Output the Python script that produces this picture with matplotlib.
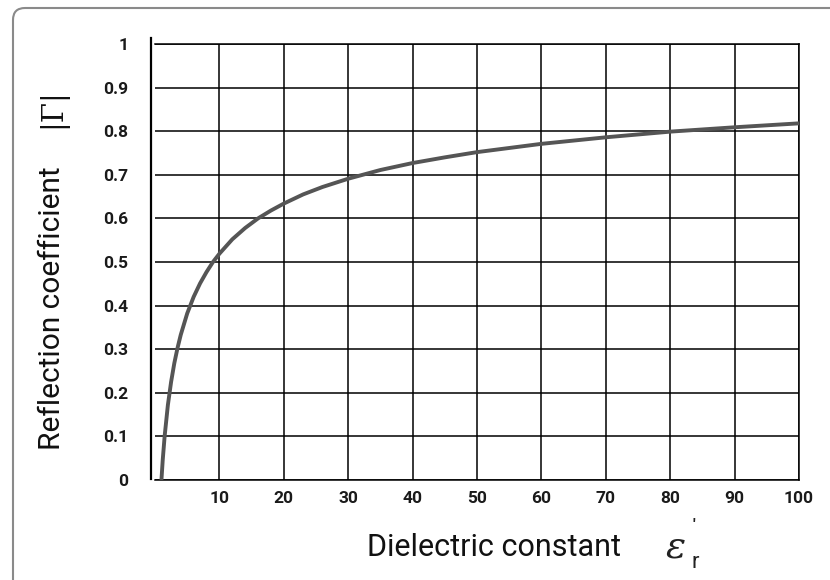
import matplotlib
matplotlib.use("Agg")
import matplotlib.pyplot as plt
from matplotlib.patches import FancyBboxPatch
from matplotlib.lines import Line2D
from matplotlib.transforms import IdentityTransform

# Data
eps_r = [1, 1.2, 1.5, 2, 2.5, 3, 3.5, 4, 5, 6, 7, 8, 9, 10, 12, 14, 16, 18, 20, 23, 26, 30,
         35, 40, 45, 50, 60, 70, 80, 90, 100]
gamma = [0.0, 0.046, 0.101, 0.172, 0.225, 0.268, 0.303, 0.333, 0.382, 0.420, 0.451, 0.477,
         0.500, 0.519, 0.552, 0.578, 0.600, 0.618, 0.634, 0.655, 0.672, 0.691, 0.711, 0.727,
         0.740, 0.752, 0.771, 0.786, 0.799, 0.809, 0.818]
x_ticks = [10, 20, 30, 40, 50, 60, 70, 80, 90, 100]
y_ticks = [0, 0.1, 0.2, 0.3, 0.4, 0.5, 0.6, 0.7, 0.8, 0.9, 1]
y_tick_labels = ["0", "0.1", "0.2", "0.3", "0.4", "0.5", "0.6", "0.7", "0.8", "0.9", "1"]

sans = ["Roboto", "DejaVu Sans"]

fig = plt.figure(figsize=(8.3, 5.8), dpi=100)
W, H = 830, 580

# Rounded frame (cropped at right/bottom)
frame = FancyBboxPatch((13, -20), 840, 592, boxstyle="round,pad=0,rounding_size=12",
                       transform=IdentityTransform(), facecolor="none",
                       edgecolor="#8a8a8a", linewidth=1.5)
fig.patches.append(frame)

ax = fig.add_axes([155 / W, 1 - 480 / H, (799 - 155) / W, (480 - 44) / H])
ax.plot(eps_r, gamma, color="#555555", linewidth=2.8, solid_capstyle="butt", zorder=3)

ax.set_xlim(0, 100)
ax.set_ylim(0, 1)
ax.set_xticks(x_ticks)
ax.set_yticks(y_ticks)
ax.set_yticklabels(y_tick_labels)
ax.grid(True, color="black", linewidth=1.1)
ax.tick_params(length=0)
ax.tick_params(axis="y", pad=19)
ax.tick_params(axis="x", pad=8)
for lab in ax.get_xticklabels() + ax.get_yticklabels():
    lab.set_fontfamily(sans)
    lab.set_fontweight("bold")
    lab.set_fontsize(12.5)
    lab.set_color("#1a1a1a")
for s in ["top", "right", "bottom"]:
    ax.spines[s].set_linewidth(1.1)
ax.spines["left"].set_visible(False)

# Separate left axis line
fig.add_artist(Line2D([151 / W, 151 / W], [1 - 479 / H, 1 - 38 / H],
                      color="black", linewidth=1.6, transform=fig.transFigure))

# Axis labels
fig.text(52 / W, 1 - 308 / H, "Reflection coefficient", rotation=90,
         ha="center", va="center", fontsize=21.5, family=sans, color="#111111")
fig.text(52 / W, 1 - 108 / H, "|\u0393|", rotation=90,
         ha="center", va="center", fontsize=21, family=["DejaVu Serif"], color="#111111")
fig.text(367 / W, 1 - 548 / H, "Dielectric constant", ha="left", va="center",
         fontsize=22, family=sans, color="#111111")
fig.text(666 / W, 1 - 548 / H, "\u03b5", ha="left", va="center", fontsize=27,
         family=["DejaVu Serif"], style="italic", color="#222222")
fig.text(691 / W, 1 - 562 / H, "r", ha="left", va="center", fontsize=16,
         family=sans, color="#222222")
fig.text(692 / W, 1 - 526 / H, "'", ha="left", va="center", fontsize=12,
         family=sans, fontweight="bold", color="#222222")

fig.savefig("out.png", dpi=100)
